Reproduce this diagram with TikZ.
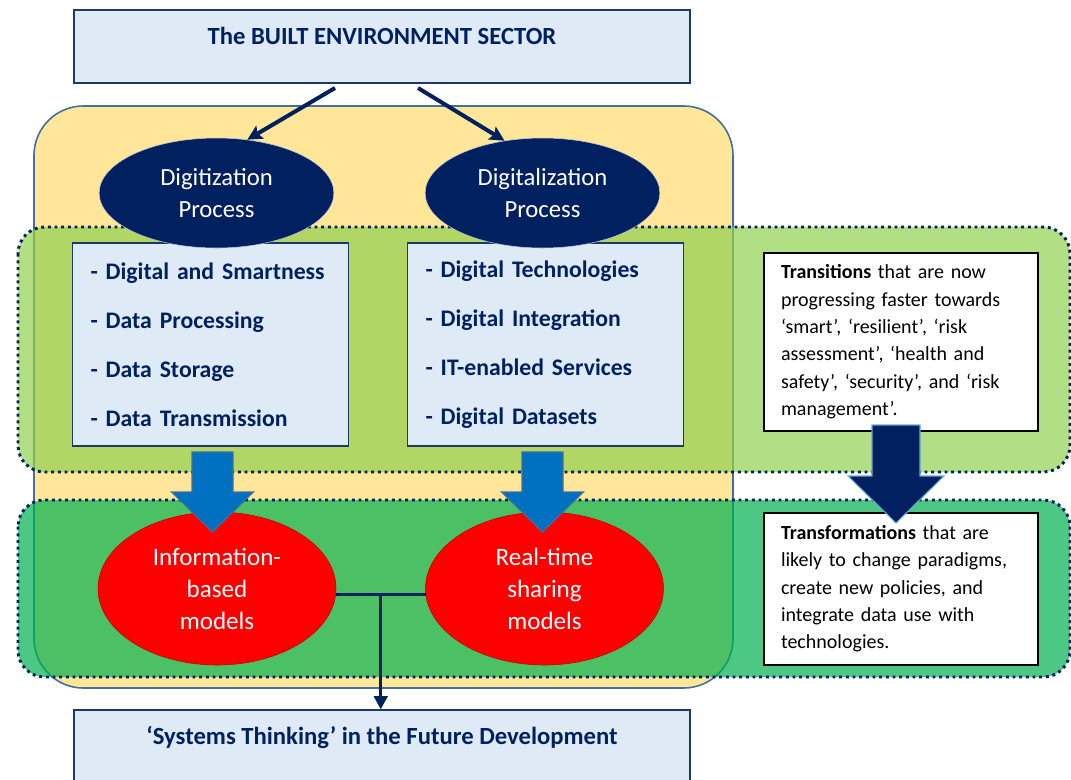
\documentclass[tikz,border=0pt]{standalone}
\usepackage{fontspec}
\setmainfont{Carlito}
\usepackage{tikz}
\usetikzlibrary{arrows.meta, shapes.geometric, positioning, calc}

\definecolor{navy}{RGB}{0,32,96}
\definecolor{boxblue}{RGB}{222,235,247}
\definecolor{boxedge}{RGB}{32,56,100}
\definecolor{sunny}{RGB}{255,230,153}
\definecolor{sunnyedge}{RGB}{65,113,156}
\definecolor{lightgreen}{RGB}{146,208,80}
\definecolor{deepgreen}{RGB}{0,176,80}
\definecolor{arrowblue}{RGB}{0,112,192}
\definecolor{rededge}{RGB}{192,0,0}

\tikzset{
  headbox/.style={draw=boxedge, thick, fill=boxblue, text=navy,
    minimum width=462pt, inner ysep=0pt, text height=26pt, text depth=28.75pt,
    font=\fontsize{18.5}{21}\selectfont\bfseries},
  listbox/.style={draw=boxedge, thick, fill=boxblue, text=navy, align=left,
    text width=180pt, inner xsep=13.5pt, minimum height=152.25pt,
    font=\fontsize{17.8}{36.75}\selectfont\bfseries},
  process/.style={ellipse, fill=navy, draw=white!75!navy, text=white, align=center,
    minimum width=176pt, minimum height=82.5pt, inner sep=0pt,
    font=\fontsize{18.5}{24}\selectfont},
  models/.style={ellipse, fill=red, draw=rededge, text=white, align=center,
    minimum width=178.5pt, minimum height=114.75pt, inner sep=0pt,
    font=\fontsize{18.8}{24}\selectfont},
  notebox/.style={draw=black, thick, fill=white, align=left,
    text width=180pt, inner xsep=12.75pt,
    font=\fontsize{15}{20.5}\selectfont},
  zone/.style={draw=navy, line width=2.2pt, dash pattern=on 2.2pt off 2.8pt,
    rounded corners=20pt, fill opacity=0.7},
  flowline/.style={draw=navy, line width=3pt, -{Stealth[length=11pt, width=11pt, inset=2pt]}},
  tline/.style={draw=navy, line width=2.5pt},
  bluearrow/.style={fill=arrowblue, draw=sunnyedge, line width=0.8pt},
  navyarrow/.style={fill=navy, draw=arrowblue!60!white, line width=0.8pt}
}

\begin{document}
\begin{tikzpicture}[x=0.75pt, y=-0.75pt]
\useasboundingbox (0,0) rectangle (1071,779);

% background zones
\draw[draw=sunnyedge, line width=1.2pt, fill=sunny, rounded corners=37pt] (34,106) rectangle (733,688);
\draw[zone, fill=lightgreen] (18,227) rectangle (1070,472);
\draw[zone, fill=deepgreen] (18,500) rectangle (1070,677);

% sector and outcome
\node[headbox, minimum height=54.75pt] (env) at (382,46.5) {The BUILT ENVIRONMENT SECTOR};
\node[headbox, minimum height=54.75pt] (sys) at (382,746.5) {`Systems Thinking' in the Future Development};

% contents of the two processes
\node[listbox] (dgzlist) at (210.5,344.5) {- Digital and Smartness\\ - Data Processing\\ - Data Storage\\ - Data Transmission};
\node[listbox] (dlzlist) at (545.5,344.5) {- Digital Technologies\\ - Digital Integration\\ - IT-enabled Services\\ - Digital Datasets};

\node[process] (dgz) at (216.5,193) {Digitization\\ Process};
\node[process] (dlz) at (542.5,193) {Digitalization\\ Process};

\node[models] (inf) at (217,588.5) {Information-\\ based\\ models};
\node[models] (rts) at (544.5,588.5) {Real-time\\ sharing\\ models};

% block arrows into the models
\foreach \cx in {212.5,542.5}
  \draw[bluearrow] (\cx-20.5,452) -- (\cx+20.5,452) -- (\cx+20.5,492) -- (\cx+41,492)
    -- (\cx,532) -- (\cx-41,492) -- (\cx-20.5,492) -- cycle;

% notes on the right
\node[notebox, minimum height=133.5pt] (trn) at (901,342) {\textbf{Transitions} that are now\\ progressing faster towards\\ `smart', `resilient', `risk\\ assessment', `health and\\ safety', `security', and `risk\\ management'.};
\node[notebox, minimum height=114pt] (trf) at (901,589) {\textbf{Transformations} that are\\ likely to change paradigms,\\ create new policies, and\\ integrate data use with\\ technologies.};

\draw[navyarrow] (872,425) -- (920,425) -- (920,476) -- (944,476) -- (896,523)
  -- (848,476) -- (872,476) -- cycle;

% connectors
\coordinate (s1) at (335,88);
\coordinate (s2) at (418,88);
\draw[flowline] (s1) -- (dgz.60);
\draw[flowline] (s2) -- (dlz.126);

\coordinate (tj) at ($(inf.-3)!0.5!(rts.183)$);
\draw[tline] (inf.-3) -- (rts.183);
\draw[tline, -{Triangle[length=10pt, width=10pt]}] (tj) -- (tj |- sys.north);
\end{tikzpicture}
\end{document}
